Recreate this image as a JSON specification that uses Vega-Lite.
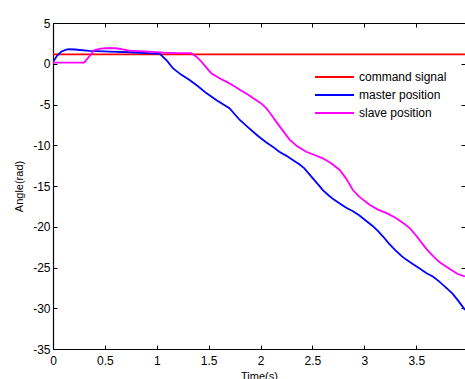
{
  "$schema": "https://vega.github.io/schema/vega-lite/v6.json",
  "width": 412,
  "height": 326,
  "autosize": "none",
  "padding": {"left": 53, "top": 23, "right": 0, "bottom": 30},
  "background": "white",
  "config": {
    "view": {"stroke": null},
    "locale": {"number": {"decimal": ".", "thousands": ",", "grouping": [3], "currency": ["$", ""], "minus": "-"}},
    "axis": {
      "grid": false,
      "domainColor": "black",
      "domainWidth": 1.2,
      "tickColor": "black",
      "tickWidth": 1,
      "labelFont": "Liberation Sans",
      "labelFontSize": 12,
      "labelColor": "black",
      "titleFont": "Liberation Sans",
      "titleFontSize": 11,
      "titleFontWeight": "normal",
      "titleColor": "black"
    },
    "legend": {
      "labelFont": "Liberation Sans",
      "labelFontSize": 12,
      "labelColor": "black"
    }
  },
  "data": {
    "values": [
      {"t": 0, "v": 1.15, "s": "command signal"},
      {"t": 4, "v": 1.15, "s": "command signal"},
      {"t": 0, "v": 0.2, "s": "master position"},
      {"t": 0.04, "v": 1.0, "s": "master position"},
      {"t": 0.08, "v": 1.48, "s": "master position"},
      {"t": 0.12, "v": 1.7, "s": "master position"},
      {"t": 0.15, "v": 1.78, "s": "master position"},
      {"t": 0.21, "v": 1.75, "s": "master position"},
      {"t": 0.35, "v": 1.57, "s": "master position"},
      {"t": 0.55, "v": 1.5, "s": "master position"},
      {"t": 0.74, "v": 1.41, "s": "master position"},
      {"t": 0.9, "v": 1.3, "s": "master position"},
      {"t": 1.03, "v": 1.2, "s": "master position"},
      {"t": 1.1, "v": 0.35, "s": "master position"},
      {"t": 1.155, "v": -0.55, "s": "master position"},
      {"t": 1.23, "v": -1.3, "s": "master position"},
      {"t": 1.316, "v": -2.0, "s": "master position"},
      {"t": 1.4, "v": -2.8, "s": "master position"},
      {"t": 1.477, "v": -3.6, "s": "master position"},
      {"t": 1.58, "v": -4.5, "s": "master position"},
      {"t": 1.7, "v": -5.45, "s": "master position"},
      {"t": 1.8, "v": -6.9, "s": "master position"},
      {"t": 1.88, "v": -7.8, "s": "master position"},
      {"t": 1.97, "v": -8.8, "s": "master position"},
      {"t": 2.05, "v": -9.6, "s": "master position"},
      {"t": 2.12, "v": -10.2, "s": "master position"},
      {"t": 2.18, "v": -10.8, "s": "master position"},
      {"t": 2.25, "v": -11.3, "s": "master position"},
      {"t": 2.31, "v": -11.8, "s": "master position"},
      {"t": 2.37, "v": -12.3, "s": "master position"},
      {"t": 2.42, "v": -12.8, "s": "master position"},
      {"t": 2.5, "v": -14.0, "s": "master position"},
      {"t": 2.56, "v": -14.9, "s": "master position"},
      {"t": 2.6, "v": -15.5, "s": "master position"},
      {"t": 2.66, "v": -16.2, "s": "master position"},
      {"t": 2.71, "v": -16.7, "s": "master position"},
      {"t": 2.77, "v": -17.2, "s": "master position"},
      {"t": 2.83, "v": -17.7, "s": "master position"},
      {"t": 2.89, "v": -18.1, "s": "master position"},
      {"t": 2.95, "v": -18.6, "s": "master position"},
      {"t": 3.01, "v": -19.2, "s": "master position"},
      {"t": 3.08, "v": -19.9, "s": "master position"},
      {"t": 3.13, "v": -20.5, "s": "master position"},
      {"t": 3.18, "v": -21.2, "s": "master position"},
      {"t": 3.24, "v": -22.1, "s": "master position"},
      {"t": 3.3, "v": -22.9, "s": "master position"},
      {"t": 3.36, "v": -23.6, "s": "master position"},
      {"t": 3.4, "v": -24.0, "s": "master position"},
      {"t": 3.47, "v": -24.6, "s": "master position"},
      {"t": 3.53, "v": -25.1, "s": "master position"},
      {"t": 3.6, "v": -25.7, "s": "master position"},
      {"t": 3.66, "v": -26.1, "s": "master position"},
      {"t": 3.72, "v": -26.7, "s": "master position"},
      {"t": 3.79, "v": -27.5, "s": "master position"},
      {"t": 3.85, "v": -28.2, "s": "master position"},
      {"t": 3.9, "v": -29.0, "s": "master position"},
      {"t": 3.97, "v": -30.2, "s": "master position"},
      {"t": 0, "v": 0.15, "s": "slave position"},
      {"t": 0.3, "v": 0.15, "s": "slave position"},
      {"t": 0.35, "v": 0.9, "s": "slave position"},
      {"t": 0.4, "v": 1.69, "s": "slave position"},
      {"t": 0.46, "v": 1.85, "s": "slave position"},
      {"t": 0.51, "v": 1.9, "s": "slave position"},
      {"t": 0.61, "v": 1.9, "s": "slave position"},
      {"t": 0.74, "v": 1.6, "s": "slave position"},
      {"t": 0.93, "v": 1.48, "s": "slave position"},
      {"t": 1.06, "v": 1.36, "s": "slave position"},
      {"t": 1.2, "v": 1.3, "s": "slave position"},
      {"t": 1.33, "v": 1.29, "s": "slave position"},
      {"t": 1.38, "v": 0.9, "s": "slave position"},
      {"t": 1.43, "v": 0.26, "s": "slave position"},
      {"t": 1.48, "v": -0.5, "s": "slave position"},
      {"t": 1.525, "v": -1.16, "s": "slave position"},
      {"t": 1.6, "v": -1.75, "s": "slave position"},
      {"t": 1.67, "v": -2.19, "s": "slave position"},
      {"t": 1.74, "v": -2.7, "s": "slave position"},
      {"t": 1.8, "v": -3.2, "s": "slave position"},
      {"t": 1.87, "v": -3.7, "s": "slave position"},
      {"t": 1.93, "v": -4.23, "s": "slave position"},
      {"t": 2.0, "v": -4.8, "s": "slave position"},
      {"t": 2.055, "v": -5.45, "s": "slave position"},
      {"t": 2.1, "v": -6.2, "s": "slave position"},
      {"t": 2.15, "v": -7.1, "s": "slave position"},
      {"t": 2.22, "v": -8.3, "s": "slave position"},
      {"t": 2.28, "v": -9.3, "s": "slave position"},
      {"t": 2.35, "v": -10.1, "s": "slave position"},
      {"t": 2.44, "v": -10.8, "s": "slave position"},
      {"t": 2.52, "v": -11.2, "s": "slave position"},
      {"t": 2.6, "v": -11.6, "s": "slave position"},
      {"t": 2.68, "v": -12.2, "s": "slave position"},
      {"t": 2.76, "v": -13.0, "s": "slave position"},
      {"t": 2.82, "v": -14.0, "s": "slave position"},
      {"t": 2.89, "v": -15.5, "s": "slave position"},
      {"t": 2.95, "v": -16.3, "s": "slave position"},
      {"t": 3.05, "v": -17.3, "s": "slave position"},
      {"t": 3.13, "v": -17.9, "s": "slave position"},
      {"t": 3.21, "v": -18.3, "s": "slave position"},
      {"t": 3.3, "v": -18.9, "s": "slave position"},
      {"t": 3.38, "v": -19.6, "s": "slave position"},
      {"t": 3.44, "v": -20.2, "s": "slave position"},
      {"t": 3.5, "v": -21.1, "s": "slave position"},
      {"t": 3.56, "v": -22.1, "s": "slave position"},
      {"t": 3.61, "v": -22.9, "s": "slave position"},
      {"t": 3.67, "v": -23.7, "s": "slave position"},
      {"t": 3.72, "v": -24.3, "s": "slave position"},
      {"t": 3.79, "v": -24.9, "s": "slave position"},
      {"t": 3.85, "v": -25.4, "s": "slave position"},
      {"t": 3.9, "v": -25.8, "s": "slave position"},
      {"t": 3.97, "v": -26.1, "s": "slave position"}
    ]
  },
  "resolve": {"axis": {"x": "independent", "y": "independent"}},
  "layer": [
    {
      "mark": {"type": "line", "strokeWidth": 1.8, "clip": true},
      "encoding": {
        "x": {
          "field": "t", "type": "quantitative",
          "scale": {"domain": [0, 3.97], "nice": false, "zero": false},
          "axis": {"orient": "bottom", "title": "Time(s)", "values": [0, 0.5, 1, 1.5, 2, 2.5, 3, 3.5], "format": "~g", "tickSize": -4, "labelPadding": 10, "titlePadding": 4, "labelFlush": false}
        },
        "y": {
          "field": "v", "type": "quantitative",
          "scale": {"domain": [-35, 5], "nice": false, "zero": false},
          "axis": {"orient": "left", "title": "Angle(rad)", "values": [-35, -30, -25, -20, -15, -10, -5, 0, 5], "format": "~g", "tickSize": -4, "labelPadding": 7, "titlePadding": 8, "labelFlush": false}
        },
        "color": {
          "field": "s", "type": "nominal",
          "scale": {"domain": ["command signal", "master position", "slave position"], "range": ["#ff0000", "#0000ff", "#ff00ff"]},
          "legend": {"title": null, "orient": "none", "legendX": 261, "legendY": 45, "symbolType": "stroke", "symbolSize": 1521, "symbolStrokeWidth": 2, "clipHeight": 18, "rowPadding": 0, "padding": 0, "labelOffset": 4}
        },
        "order": {"field": "t", "type": "quantitative"}
      }
    },
    {
      "mark": {"type": "line", "opacity": 0},
      "encoding": {
        "x": {
          "field": "t", "type": "quantitative",
          "axis": {"orient": "top", "title": null, "labels": false, "values": [0, 0.5, 1, 1.5, 2, 2.5, 3, 3.5], "tickSize": -4}
        },
        "y": {
          "field": "v", "type": "quantitative",
          "axis": {"orient": "right", "title": null, "labels": false, "domain": false, "values": [-35, -30, -25, -20, -15, -10, -5, 0, 5], "tickSize": -4}
        },
        "detail": {"field": "s", "type": "nominal"}
      }
    }
  ]
}
